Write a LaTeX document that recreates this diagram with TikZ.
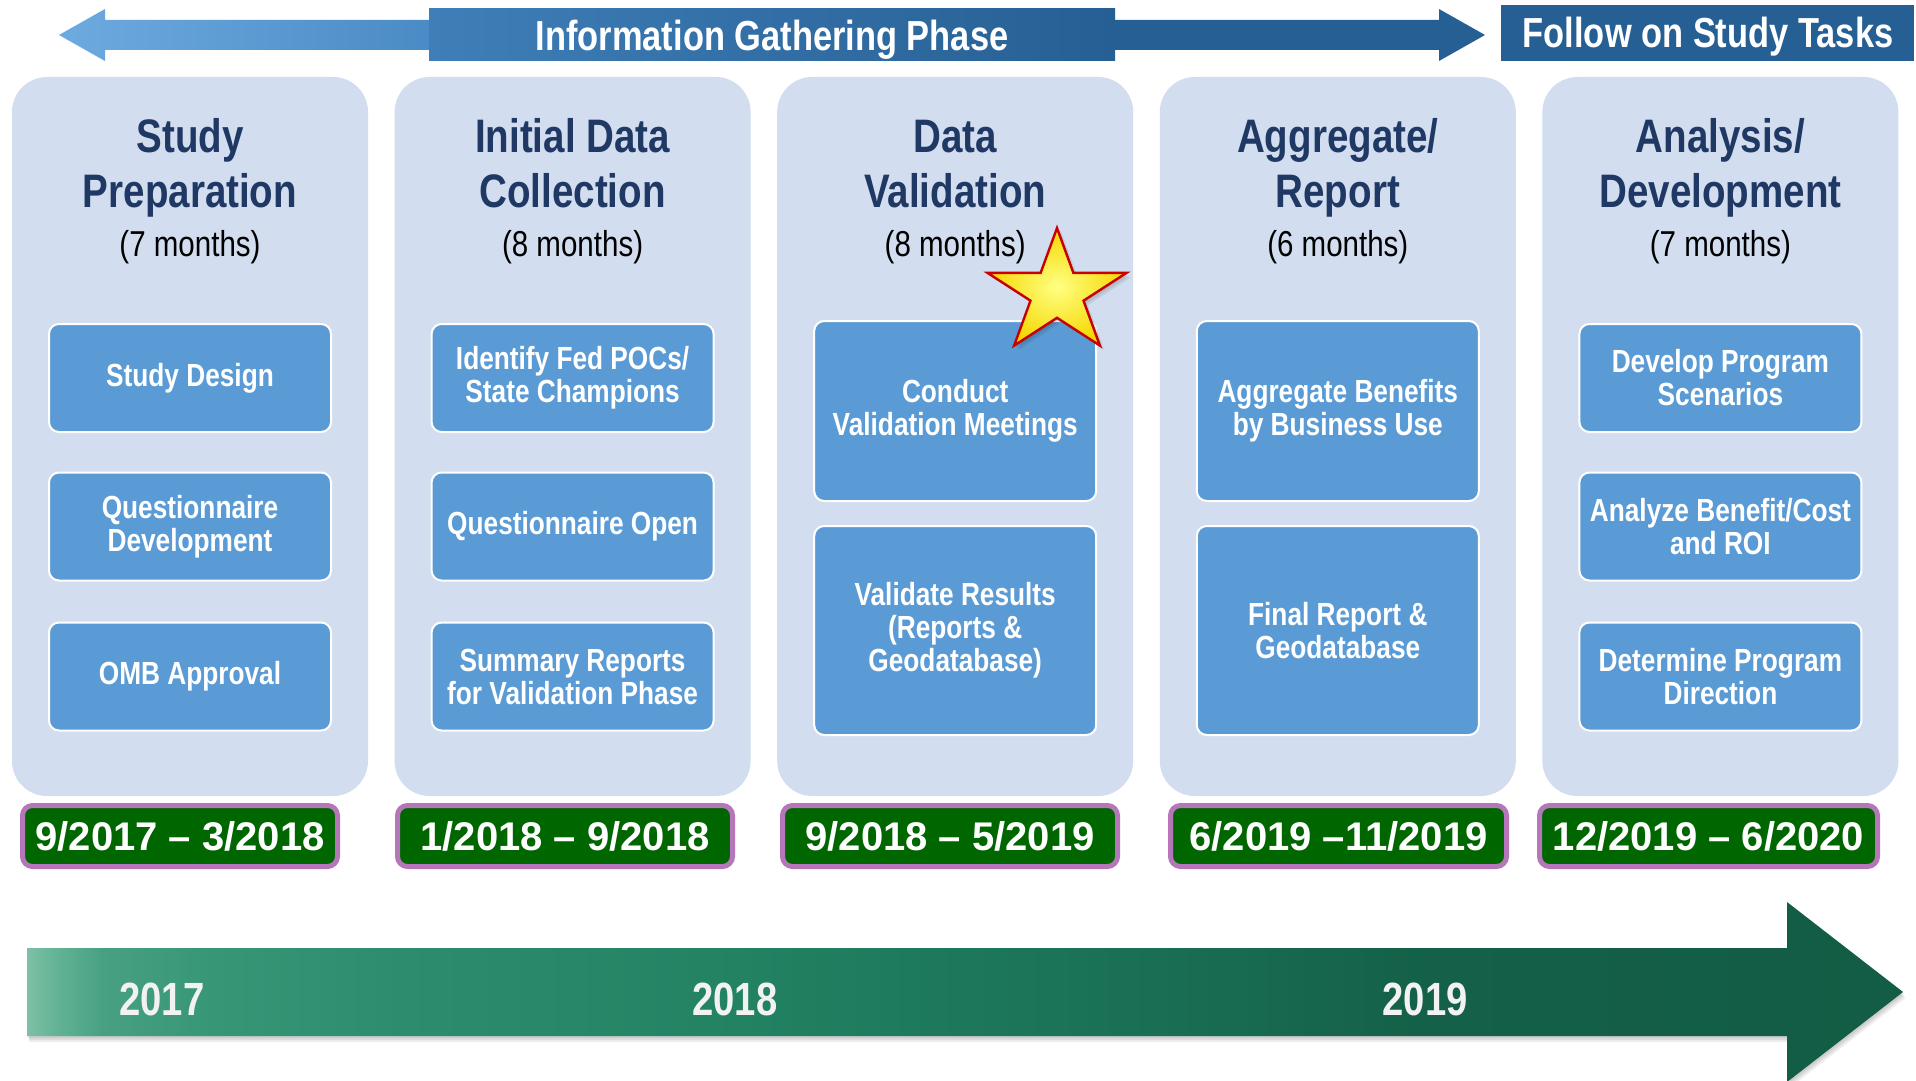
\documentclass[tikz,border=0pt]{standalone}
\usepackage{fontspec}
\setmainfont{Liberation Sans}
\newfontfamily\narrowfont{Liberation Sans}[FakeStretch=0.82]
\definecolor{panelfill}{RGB}{210,222,239}
\definecolor{taskfill}{RGB}{91,155,213}
\definecolor{titlecol}{RGB}{31,56,100}
\definecolor{dategreen}{RGB}{0,102,0}
\definecolor{datepurple}{RGB}{181,118,186}
\definecolor{toplight}{RGB}{109,170,224}
\definecolor{topmid}{RGB}{75,139,197}
\definecolor{topdark}{RGB}{38,95,147}
\definecolor{boxleft}{RGB}{63,126,184}
\definecolor{yearwhite}{RGB}{242,242,242}
\definecolor{starred}{RGB}{200,0,0}
\definecolor{starin}{RGB}{255,255,130}
\definecolor{starout}{RGB}{245,215,0}
\definecolor{tlzero}{RGB}{125,192,166}
\definecolor{tlone}{RGB}{100,180,150}
\definecolor{tltwo}{RGB}{72,160,130}
\definecolor{tlthree}{RGB}{54,150,118}
\definecolor{tlfour}{RGB}{45,140,110}
\definecolor{tlfive}{RGB}{34,130,98}
\definecolor{tlsix}{RGB}{27,115,88}
\definecolor{tlseven}{RGB}{20,96,72}
\definecolor{tleight}{RGB}{19,92,69}
\pgfdeclarehorizontalshading{toparrowshade}{100bp}{color(0bp)=(toplight); color(25bp)=(toplight); color(38bp)=(topmid); color(52bp)=(topdark); color(100bp)=(topdark)}
\pgfdeclarehorizontalshading{timelineshade}{100bp}{color(0bp)=(tlzero); color(25bp)=(tlzero); color(25.75bp)=(tlone); color(27bp)=(tltwo); color(30bp)=(tlthree); color(35bp)=(tlfour); color(44bp)=(tlfive); color(52.5bp)=(tlsix); color(62.5bp)=(tlseven); color(75bp)=(tleight); color(100bp)=(tleight)}
\begin{document}
\begin{tikzpicture}[x=0.5pt,y=-0.5pt,
  panel/.style={fill=panelfill, draw=none, rounded corners=17.5pt, minimum width=178pt, minimum height=359.5pt, inner sep=0pt},
  task/.style={fill=taskfill, draw=white, line width=1pt, rounded corners=5pt, minimum width=141pt, text=white, align=center, inner sep=0pt, font=\narrowfont\bfseries\fontsize{16}{16.5}\selectfont},
  titletext/.style={text=titlecol, anchor=base, inner sep=0pt, font=\narrowfont\bfseries\fontsize{23.5}{27}\selectfont},
  monthtext/.style={text=black, anchor=base, inner sep=0pt, font=\narrowfont\fontsize{18}{20}\selectfont},
  datebox/.style={fill=dategreen, draw=datepurple, line width=2.5pt, rounded corners=5pt, minimum height=30.5pt, text=white, inner sep=0pt, font=\bfseries\fontsize{20}{22}\selectfont},
  yeartext/.style={text=yearwhite, anchor=base, inner sep=0pt, font=\narrowfont\bfseries\fontsize{23.3}{25}\selectfont},
  toptext/.style={text=white, anchor=base, inner sep=0pt, font=\narrowfont\bfseries\fontsize{21}{23}\selectfont},
  softshadow/.style={fill=black, opacity=0.07}]
\useasboundingbox (0,0) rectangle (1916,1081);
\fill[white] (0,0) rectangle (1916,1081);
% top phase arrow
\shade[shading=toparrowshade] (59,35) -- (105,9) -- (105,20) -- (1439,20) -- (1439,9) -- (1485,35) -- (1439,61) -- (1439,50) -- (105,50) -- (105,61) -- cycle;
\node[left color=boxleft, right color=topdark, minimum width=343pt, minimum height=26pt, inner sep=0pt] (igpbox) at (772,35) {};
\node[toptext] (igptext) at (772,51) {Information Gathering Phase};
\node[fill=topdark, minimum width=206.5pt, minimum height=28pt, inner sep=0pt] (followbox) at (1707.5,33) {};
\node[toptext] (followtext) at (1708,48) {Follow on Study Tasks};
% panels
\node[panel] (p1) at (190,436.5) {};
\node[panel] (p2) at (572.6,436.5) {};
\node[panel] (p3) at (955.2,436.5) {};
\node[panel] (p4) at (1337.8,436.5) {};
\node[panel] (p5) at (1720.4,436.5) {};
% titles
\node[titletext] (t1a) at (190,152) {Study};
\node[titletext] (t1b) at (190,207) {Preparation};
\node[monthtext] (m1) at (190,256) {(7 months)};
\node[titletext] (t2a) at (572.6,152) {Initial Data};
\node[titletext] (t2b) at (572.6,207) {Collection};
\node[monthtext] (m2) at (572.6,256) {(8 months)};
\node[titletext] (t3a) at (955.2,152) {Data};
\node[titletext] (t3b) at (955.2,207) {Validation};
\node[monthtext] (m3) at (955.2,256) {(8 months)};
\node[titletext] (t4a) at (1337.8,152) {Aggregate/};
\node[titletext] (t4b) at (1337.8,207) {Report};
\node[monthtext] (m4) at (1337.8,256) {(6 months)};
\node[titletext] (t5a) at (1720.4,152) {Analysis/};
\node[titletext] (t5b) at (1720.4,207) {Development};
\node[monthtext] (m5) at (1720.4,256) {(7 months)};
% task boxes
\node[task, minimum height=54pt] (b11) at (190,378) {Study Design};
\node[task, minimum height=54pt] (b12) at (190,526.5) {Questionnaire\\Development};
\node[task, minimum height=54pt] (b13) at (190,676.5) {OMB Approval};
\node[task, minimum height=54pt] (b21) at (572.6,378) {Identify Fed POCs/\\State Champions};
\node[task, minimum height=54pt] (b22) at (572.6,526.5) {Questionnaire Open};
\node[task, minimum height=54pt] (b23) at (572.6,676.5) {Summary Reports\\for Validation Phase};
\node[task, minimum height=90pt] (b31) at (955.2,411) {Conduct\\Validation Meetings};
\node[task, minimum height=104.5pt] (b32) at (955.2,630.5) {Validate Results\\(Reports \&\\Geodatabase)};
\node[task, minimum height=90pt] (b41) at (1337.8,411) {Aggregate Benefits\\by Business Use};
\node[task, minimum height=104.5pt] (b42) at (1337.8,630.5) {Final Report \&\\Geodatabase};
\node[task, minimum height=54pt] (b51) at (1720.4,378) {Develop Program\\Scenarios};
\node[task, minimum height=54pt] (b52) at (1720.4,526.5) {Analyze Benefit/Cost\\and ROI};
\node[task, minimum height=54pt] (b53) at (1720.4,676.5) {Determine Program\\Direction};
% date boxes
\node[datebox, minimum width=157.5pt] (d1) at (180,836) {9/2017 – 3/2018};
\node[datebox, minimum width=167.5pt] (d2) at (565,836) {1/2018 – 9/2018};
\node[datebox, minimum width=167.5pt] (d3) at (950,836) {9/2018 – 5/2019};
\node[datebox, minimum width=168pt] (d4) at (1338.5,836) {6/2019 –11/2019};
\node[datebox, minimum width=169pt] (d5) at (1708.5,836) {12/2019 – 6/2020};
% timeline arrow with soft shadow
\foreach \s in {2,4,6} {
\begin{scope}[shift={(\s*0.4,\s)}]
\fill[softshadow] (27,948) -- (1787,948) -- (1787,902) -- (1903,992) -- (1787,1082) -- (1787,1036) -- (27,1036) -- cycle;
\end{scope}
}
\shade[shading=timelineshade] (27,948) -- (1787,948) -- (1787,902) -- (1903,992) -- (1787,1082) -- (1787,1036) -- (27,1036) -- cycle;
\node[yeartext] (y17) at (162,1015) {2017};
\node[yeartext] (y18) at (735,1015) {2018};
\node[yeartext] (y19) at (1425,1015) {2019};
% star with soft shadow
\foreach \s in {1.5,3,4.5} {
\begin{scope}[shift={(1057+\s,293+\s)}, xscale=73, yscale=-65]
\fill[softshadow] (90:1) -- (126:0.382) -- (162:1) -- (198:0.382) -- (234:1) -- (270:0.382) -- (306:1) -- (342:0.382) -- (18:1) -- (54:0.382) -- cycle;
\end{scope}
}
\begin{scope}[shift={(1057,293)}, xscale=73, yscale=-65]
\shadedraw[inner color=starin, outer color=starout, draw=starred, line width=1.2pt, line join=miter] (90:1) -- (126:0.382) -- (162:1) -- (198:0.382) -- (234:1) -- (270:0.382) -- (306:1) -- (342:0.382) -- (18:1) -- (54:0.382) -- cycle;
\end{scope}
\end{tikzpicture}
\end{document}
